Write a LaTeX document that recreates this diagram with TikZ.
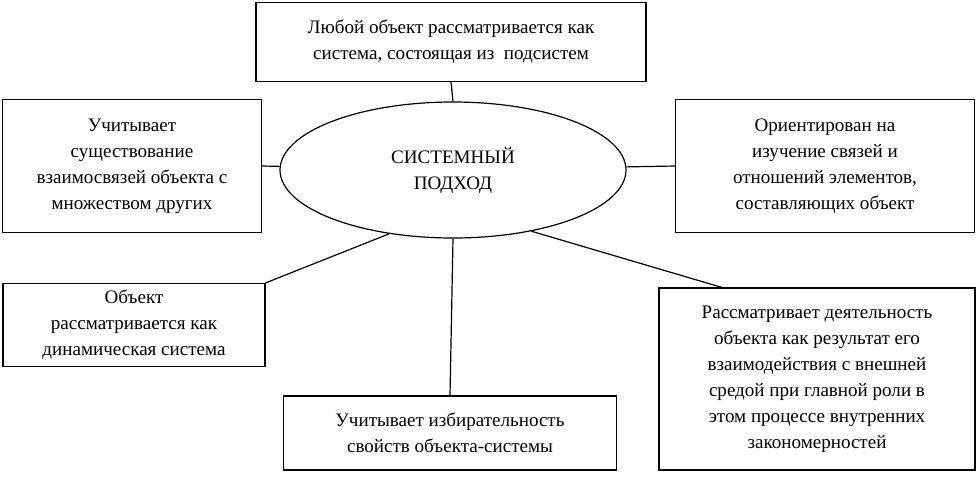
\documentclass[tikz,border=0pt]{standalone}
\usepackage{fontspec}
\setmainfont{Liberation Serif}
\usetikzlibrary{shapes.geometric,calc}
\begin{document}
\begin{tikzpicture}[x=0.75pt,y=-0.75pt]
\tikzset{every node/.style={font=\fontsize{14.3}{19.5}\selectfont,align=center,inner sep=0pt},
  idea/.style={draw,thick,line width=0.9pt},
  link/.style={line width=0.9pt}}
\useasboundingbox (0,0) rectangle (978,476);
\node[idea,ellipse,minimum width=346*0.75pt,minimum height=136*0.75pt] (ell) at (453,170) {СИСТЕМНЫЙ\\ПОДХОД};
\node[idea,minimum width=390*0.75pt,minimum height=79*0.75pt] (top) at (451,42) {Любой объект рассматривается как\\система, состоящая из\ \ подсистем};
\node[idea,minimum width=259*0.75pt,minimum height=133*0.75pt] (lt) at (132,166) {Учитывает\\существование\\взаимосвязей объекта с\\множеством других};
\node[idea,minimum width=299*0.75pt,minimum height=133*0.75pt] (rt) at (825,166) {Ориентирован на\\изучение связей и\\отношений элементов,\\составляющих объект};
\node[idea,minimum width=262*0.75pt,minimum height=83*0.75pt] (lb) at (134,325) {Объект\\рассматривается как\\динамическая система};
\node[idea,minimum width=333*0.75pt,minimum height=74*0.75pt] (bot) at (450,433) {Учитывает избирательность\\свойств объекта-системы};
\node[idea,minimum width=316*0.75pt,minimum height=182*0.75pt] (rb) at (817,379) {Рассматривает деятельность\\объекта как результат его\\взаимодействия с внешней\\средой при главной роли в\\этом процессе внутренних\\закономерностей};
% connectors
\draw[link] (top.south) -- (ell.north);
\draw[link] (lt.east) -- (ell);
\draw[link] (rt.west) -- (ell);
\draw[link] (lb.north east) -- (ell.225);
\draw[link] (bot.north) -- (ell.south);
\draw[link] ($(rb.north west)!0.2!(rb.north east)$) -- (ell.-38);
\end{tikzpicture}
\end{document}
